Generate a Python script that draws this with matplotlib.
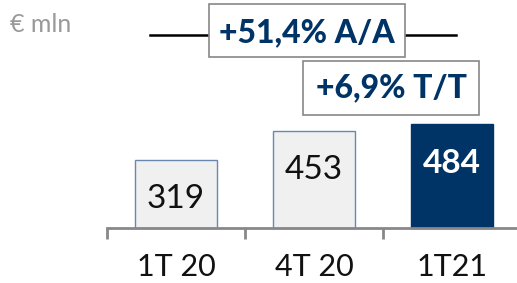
import matplotlib
matplotlib.use("Agg")
import matplotlib.pyplot as plt
from matplotlib.patches import Rectangle
from matplotlib.lines import Line2D

categories = ["1T 20", "4T 20", "1T21"]
values = [319, 453, 484]
growth_yoy = "+51,4% A/A"
growth_qoq = "+6,9% T/T"
unit = "€ mln"

navy = "#003366"
light = "#F0F0F0"
edge = "#6A88AE"

plt.rcParams['font.family'] = ['Lato', 'DejaVu Sans']

fig = plt.figure(figsize=(5.17, 2.83), dpi=100)
ax = fig.add_axes([0, 0, 1, 1])

x = range(len(categories))
colors = [light, light, navy]
edges = [edge, edge, navy]
ax.bar(x, values, width=0.59, color=colors, edgecolor=edges, linewidth=1, zorder=2)

for i, v in enumerate(values):
    last = i == len(values) - 1
    ax.annotate(str(v), (i, v), xytext=(0, -28), textcoords="offset points",
                ha="center", va="center", fontsize=24,
                color="white" if last else "#111111",
                fontweight="bold" if last else "normal")

ax.set_xlim(-1.275, 2.471)
ax.set_ylim(-257, 1065)

for s in ["top", "right", "left"]:
    ax.spines[s].set_visible(False)
ax.spines["bottom"].set_position(("data", 0))
ax.spines["bottom"].set_bounds(-0.5, 2.471)
ax.spines["bottom"].set_color("#888888")
ax.spines["bottom"].set_linewidth(2)
ax.set_yticks([])
ax.set_xticks(list(x))
ax.set_xticklabels(categories, fontsize=22, color="#111111")
ax.tick_params(axis="x", which="major", length=0, pad=18)
ax.set_xticks([-0.5, 0.5, 1.5], minor=True)
ax.tick_params(axis="x", which="minor", length=8, width=2, color="#888888", direction="out")

fig.text(10 / 517, 1 - 24 / 283, unit, fontsize=18, color="#999999", va="center", ha="left")

# growth boxes
W, H = 517, 283
fig.add_artist(Line2D([150 / W, 456 / W], [1 - 35 / H, 1 - 35 / H], color="black", lw=1.8, zorder=1))
fig.add_artist(Rectangle((209 / W, 1 - 57 / H), 196 / W, 53 / H, facecolor="white",
                         edgecolor="#888888", lw=1.2, zorder=2))
fig.text(307 / W, 1 - 33 / H, growth_yoy, fontsize=23, fontweight="black", color=navy,
         ha="center", va="center", zorder=3)
fig.add_artist(Rectangle((303 / W, 1 - 115 / H), 176 / W, 54 / H, facecolor="white",
                         edgecolor="#888888", lw=1.2, zorder=2))
fig.text(391 / W, 1 - 88 / H, growth_qoq, fontsize=23, fontweight="black", color=navy,
         ha="center", va="center", zorder=3)

fig.savefig("out.png", dpi=100)
